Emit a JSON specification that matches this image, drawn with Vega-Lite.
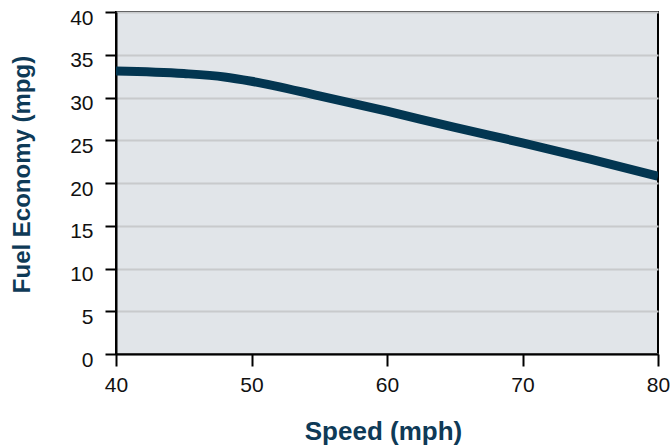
{
  "$schema": "https://vega.github.io/schema/vega-lite/v6.json",
  "width": 542,
  "height": 342,
  "autosize": {"type": "none"},
  "padding": {"left": 116, "top": 12, "right": 14, "bottom": 92},
  "background": "white",
  "config": {
    "font": "Liberation Sans",
    "view": {"fill": "#e1e5e9", "stroke": "#000000", "strokeWidth": 2},
    "axis": {
      "domainColor": "#000000",
      "domainWidth": 2,
      "tickColor": "#000000",
      "tickWidth": 2,
      "labelColor": "#111111",
      "labelFontSize": 21,
      "labelFont": "Liberation Sans",
      "labelFlush": false,
      "titleFont": "Liberation Sans",
      "titleFontWeight": "bold",
      "titleColor": "#0e3a57"
    }
  },
  "data": {
    "values": [
      {"speed": 40, "mpg": 33.1},
      {"speed": 45, "mpg": 32.8},
      {"speed": 48, "mpg": 32.4},
      {"speed": 50, "mpg": 31.9},
      {"speed": 55, "mpg": 30.2},
      {"speed": 60, "mpg": 28.4},
      {"speed": 65, "mpg": 26.5},
      {"speed": 70, "mpg": 24.7},
      {"speed": 75, "mpg": 22.8},
      {"speed": 80, "mpg": 20.8}
    ]
  },
  "mark": {"type": "line", "color": "#033651", "strokeWidth": 9, "interpolate": "monotone", "clip": true},
  "encoding": {
    "x": {
      "field": "speed",
      "type": "quantitative",
      "scale": {"domain": [40, 80], "nice": false, "zero": false},
      "axis": {
        "title": "Speed (mph)",
        "values": [40, 50, 60, 70, 80],
        "grid": false,
        "tickSize": 12,
        "labelPadding": 8,
        "titleFontSize": 26,
        "titleX": 267,
        "titleY": 77,
        "titleBaseline": "middle",
        "titleAnchor": "middle"
      }
    },
    "y": {
      "field": "mpg",
      "type": "quantitative",
      "scale": {"domain": [0, 40], "nice": false},
      "axis": {
        "title": "Fuel Economy (mpg)",
        "values": [0, 5, 10, 15, 20, 25, 30, 35, 40],
        "grid": true,
        "gridColor": "#c8cacc",
        "gridWidth": 2,
        "tickSize": 11,
        "labelPadding": 12,
        "labelBaseline": "middle",
        "labelOffset": 6,
        "titleFontSize": 24,
        "titleX": -94,
        "titleY": 162,
        "titleBaseline": "middle",
        "titleAnchor": "middle"
      }
    }
  }
}
